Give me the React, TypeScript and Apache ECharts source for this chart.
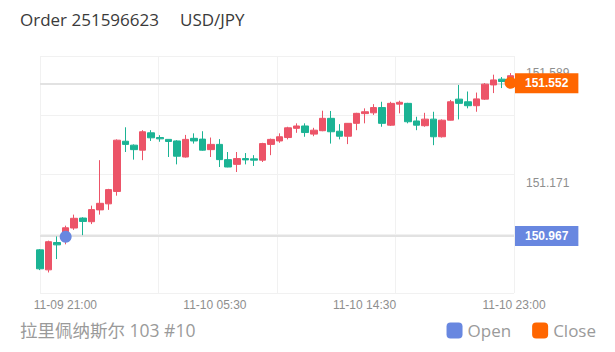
import React, { useEffect, useRef } from 'react';
import * as echarts from 'echarts';

const titleText = 'Order 251596623';
const symbolText = 'USD/JPY';
const footerText = '拉里佩纳斯尔 103 #10';
const tickLabels = ['11-09 21:00', '11-10 05:30', '11-10 14:30', '11-10 23:00'];
const yLabelValues = [151.589, 151.171];

const opens = [
  150.917, 150.841, 150.945, 150.952, 151.0, 151.038, 151.024, 151.069, 151.092, 151.139,
  151.33, 151.315, 151.296, 151.362, 151.344, 151.337, 151.331, 151.27, 151.341, 151.338,
  151.298, 151.318, 151.26, 151.242, 151.264, 151.263, 151.258, 151.318, 151.331, 151.344,
  151.379, 151.388, 151.357, 151.37, 151.417, 151.368, 151.349, 151.398, 151.435, 151.438,
  151.458, 151.391, 151.471, 151.474, 151.407, 151.389, 151.414, 151.347, 151.41, 151.49,
  151.48, 151.465, 151.49, 151.544, 151.566, 151.563,
];
const closes = [
  150.845, 150.948, 150.936, 151.001, 151.037, 151.025, 151.07, 151.094, 151.146, 151.334,
  151.318, 151.298, 151.366, 151.343, 151.339, 151.329, 151.273, 151.337, 151.331, 151.296,
  151.318, 151.26, 151.232, 151.264, 151.259, 151.258, 151.321, 151.337, 151.347, 151.381,
  151.388, 151.363, 151.372, 151.417, 151.366, 151.349, 151.398, 151.436, 151.442, 151.458,
  151.398, 151.474, 151.478, 151.404, 151.391, 151.414, 151.347, 151.41, 151.48, 151.474,
  151.465, 151.491, 151.547, 151.563, 151.557, 151.579,
];
const lows = [
  150.84, 150.831, 150.882, 150.938, 150.993, 150.973, 151.015, 151.051, 151.069, 151.123,
  151.289, 151.26, 151.258, 151.331, 151.328, 151.27, 151.242, 151.268, 151.321, 151.294,
  151.27, 151.232, 151.231, 151.213, 151.242, 151.236, 151.251, 151.277, 151.324, 151.337,
  151.362, 151.347, 151.349, 151.368, 151.321, 151.337, 151.319, 151.372, 151.398, 151.43,
  151.385, 151.388, 151.436, 151.398, 151.372, 151.385, 151.315, 151.344, 151.409, 151.413,
  151.455, 151.442, 151.487, 151.513, 151.532, 151.56,
];
const highs = [
  150.92, 150.952, 150.968, 151.009, 151.051, 151.041, 151.085, 151.258, 151.149, 151.337,
  151.383, 151.318, 151.372, 151.372, 151.353, 151.338, 151.334, 151.354, 151.36, 151.368,
  151.344, 151.338, 151.289, 151.289, 151.285, 151.277, 151.324, 151.34, 151.36, 151.385,
  151.398, 151.398, 151.381, 151.446, 151.445, 151.395, 151.399, 151.438, 151.455, 151.471,
  151.48, 151.48, 151.484, 151.476, 151.423, 151.438, 151.442, 151.413, 151.487, 151.544,
  151.519, 151.515, 151.551, 151.583, 151.574, 151.589,
];

const openIndex = 3;
const openPrice = 150.967;
const closeIndex = 55;
const closePrice = 151.552;

const UP = '#ec5468';
const DOWN = '#1bb394';
const BLUE = '#6887e0';
const ORANGE = '#ff6600';
const GRID_LINE = '#f1f1f1';
const MARK_LINE = '#e2e2e2';
const AXIS_TEXT = '#8e8e8e';
const NUM_FONT = '"Liberation Sans", Arial, sans-serif';
const UI_FONT = '"Open Sans", "Noto Sans CJK SC", sans-serif';

function markLineFor(price: number, color: string) {
  return {
    silent: true,
    symbol: 'none',
    z: 1,
    lineStyle: { color: MARK_LINE, width: 2, type: 'solid' },
    label: {
      position: 'end',
      distance: 1,
      formatter: () => price.toFixed(3),
      backgroundColor: color,
      color: '#fff',
      padding: [4, 10, 4, 10],
      fontFamily: NUM_FONT,
      fontSize: 12,
      fontWeight: 'bold',
    },
    emphasis: { disabled: true },
    data: [{ yAxis: price }],
  };
}

export default function App() {
  const ref = useRef<HTMLDivElement>(null);

  useEffect(() => {
    document.body.style.margin = '0';
    if (!ref.current) return;
    const chart = echarts.init(ref.current, undefined, { renderer: 'svg' });
    const candleData = opens.map((o, i) => [i, o, closes[i], lows[i], highs[i]]);

    chart.setOption({
      animation: false,
      backgroundColor: '#ffffff',
      title: [
        {
          text: titleText, left: 20, top: 11, padding: 0,
          textStyle: { fontFamily: UI_FONT, fontSize: 17, fontWeight: 'normal', color: '#3a3a3a' },
        },
        {
          text: symbolText, left: 180, top: 11, padding: 0,
          textStyle: { fontFamily: UI_FONT, fontSize: 17, fontWeight: 'normal', color: '#3a3a3a' },
        },
        {
          text: footerText, left: 20, top: 321, padding: 0,
          textStyle: { fontFamily: UI_FONT, fontSize: 17.5, fontWeight: 'normal', color: '#9a9a9a' },
        },
      ],
      legend: {
        data: ['Open', 'Close'],
        right: 19,
        top: 322,
        padding: 0,
        icon: 'roundRect',
        itemWidth: 16,
        itemHeight: 16,
        itemGap: 21,
        selectedMode: false,
        textStyle: { fontFamily: UI_FONT, fontSize: 17, color: '#9a9a9a' },
      },
      grid: { left: 40, right: 101, top: 56, bottom: 59 },
      xAxis: [
        {
          type: 'value', min: 0, max: 55.4, interval: 55.4 / 4,
          axisLine: { show: false }, axisTick: { show: false }, axisLabel: { show: false },
          splitLine: { show: true, lineStyle: { color: GRID_LINE, width: 1 } },
        },
        {
          type: 'value', position: 'bottom', min: -0.17, max: 3,
          axisLine: { show: false }, axisTick: { show: false }, splitLine: { show: false },
          axisLabel: {
            customValues: tickLabels.map((_, i) => i),
            formatter: (v: number) => tickLabels[Math.round(v)] ?? '',
            color: AXIS_TEXT, fontFamily: NUM_FONT, fontSize: 12, margin: 6,
          },
        },
      ],
      yAxis: [
        {
          type: 'value', position: 'right', min: 150.753, max: 151.654, scale: true,
          axisLine: { show: false }, axisTick: { show: false }, splitLine: { show: false },
          axisLabel: {
            customValues: yLabelValues,
            formatter: (v: number) => v.toFixed(3),
            color: AXIS_TEXT, fontFamily: NUM_FONT, fontSize: 12, margin: 12,
          },
        },
        {
          type: 'value', position: 'left', min: 0, max: 4, interval: 1,
          axisLine: { show: false }, axisTick: { show: false }, axisLabel: { show: false },
          splitLine: { show: true, lineStyle: { color: GRID_LINE, width: 1 } },
        },
      ],
      series: [
        {
          type: 'candlestick',
          xAxisIndex: 0,
          yAxisIndex: 0,
          encode: { x: 0, y: [1, 2, 3, 4] },
          data: candleData,
          barWidth: 7,
          itemStyle: { color: UP, color0: DOWN, borderColor: UP, borderColor0: DOWN, borderWidth: 1 },
          emphasis: { disabled: true },
        },
        {
          name: 'Open', type: 'scatter', xAxisIndex: 0, yAxisIndex: 0, z: 5,
          data: [[openIndex, openPrice]], symbolSize: 12,
          itemStyle: { color: BLUE, opacity: 1 },
          markLine: markLineFor(openPrice, BLUE),
        },
        {
          name: 'Close', type: 'scatter', xAxisIndex: 0, yAxisIndex: 0, z: 5,
          data: [[closeIndex, closePrice]], symbolSize: 12,
          itemStyle: { color: ORANGE, opacity: 1 },
          markLine: markLineFor(closePrice, ORANGE),
        },
      ],
    });

    return () => chart.dispose();
  }, []);

  return (
    <div style={{ position: 'absolute', left: 0, top: 0 }}>
      <div ref={ref} style={{ width: 615, height: 352 }} />
    </div>
  );
}
